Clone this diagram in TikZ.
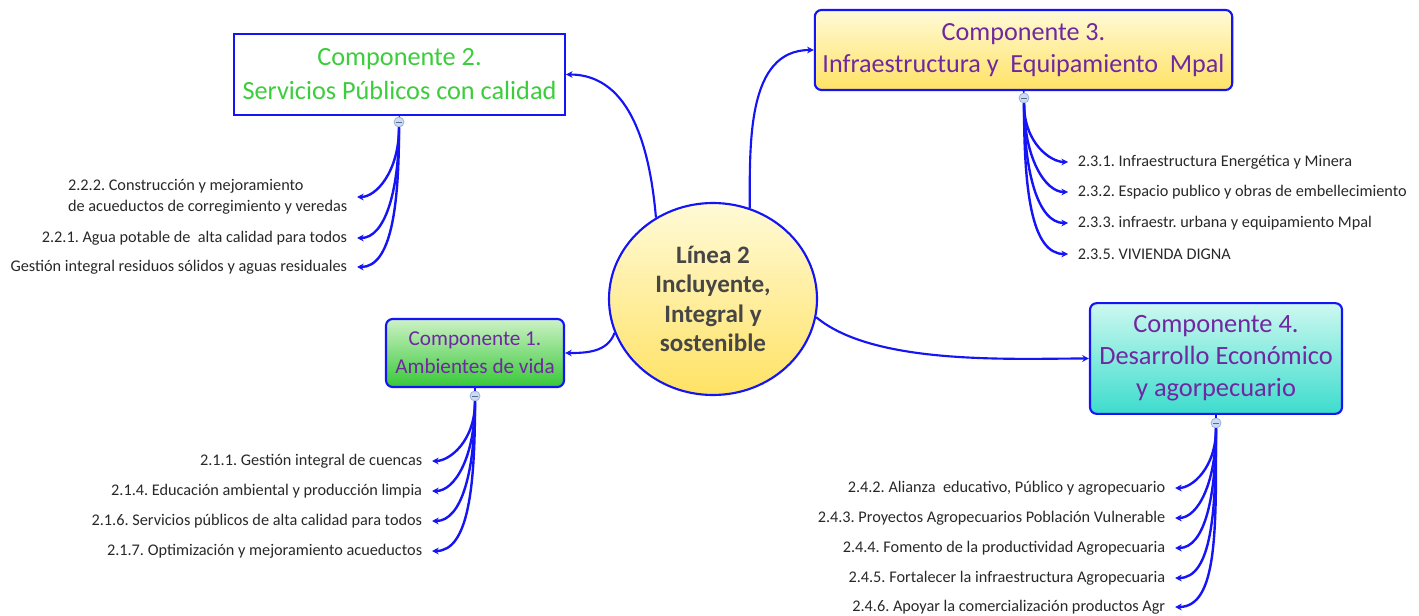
\documentclass[tikz,border=0pt]{standalone}
\usepackage{fontspec}
\setmainfont{Carlito}
\usetikzlibrary{arrows.meta,shapes.geometric}
\frenchspacing

\definecolor{mapblue}{RGB}{20,20,245}
\definecolor{titlegreen}{RGB}{60,205,60}
\definecolor{titlepurple}{RGB}{112,40,160}
\definecolor{leafgray}{RGB}{40,40,40}
\definecolor{coregray}{RGB}{70,70,70}
\definecolor{yellowtop}{RGB}{255,250,215}
\definecolor{yellowbot}{RGB}{255,226,100}
\definecolor{greentop}{RGB}{205,242,198}
\definecolor{greenbot}{RGB}{55,200,55}
\definecolor{cyantop}{RGB}{205,248,240}
\definecolor{cyanbot}{RGB}{60,220,205}
\definecolor{foldfill}{RGB}{205,218,242}
\definecolor{folddraw}{RGB}{150,178,225}

\tikzset{every picture/.style={line width=0.75pt}}
\tikzset{
  compbox/.style={draw=mapblue, line width=1.6pt, align=center, text=titlepurple, inner sep=0pt},
  fold/.style={circle, draw=folddraw, fill=foldfill, minimum size=7.5pt, inner sep=0pt, line width=0.6pt},
  foldbar/.style={draw=folddraw!60!black, line width=0.6pt},
  leaf/.style={font=\fontsize{12.2}{15.5}\selectfont, text=leafgray, inner xsep=7pt, inner ysep=1pt},
  link/.style={draw=mapblue, line width=1.6pt, -{Stealth[length=5pt,width=5pt]}},
  leaflink/.style={draw=mapblue, line width=1.8pt, -{Stealth[length=5pt,width=5pt]}},
}

\begin{document}
\begin{tikzpicture}[x=0.75pt,y=0.75pt,yscale=-1,xscale=1]
\path[use as bounding box] (0,0) rectangle (1419,616);

%Shape: Ellipse, central line
\node[ellipse, draw=mapblue, line width=1.6pt, top color=yellowtop, bottom color=yellowbot, minimum width=156pt, minimum height=144pt, inner sep=0pt, align=center, text=coregray, font=\bfseries\fontsize{18.8}{22}\selectfont] (lin) at (713,299) {Línea 2\\Incluyente,\\Integral y\\sostenible};

%Shape: Rectangle, component 2
\node[compbox, sharp corners, fill=white, text=titlegreen, minimum width=248pt, minimum height=61pt, font=\fontsize{19.7}{25.5}\selectfont] (c2) at (399.5,74.5) {Componente 2.\\Servicios Públicos con calidad};
%Shape: Rectangle, component 3
\node[compbox, rounded corners=5pt, top color=yellowtop, bottom color=yellowbot, minimum width=313pt, minimum height=60pt, font=\fontsize{19.6}{24}\selectfont] (c3) at (1023.5,50) {Componente 3.\\Infraestructura y~ Equipamiento~ Mpal};
%Shape: Rectangle, component 1
\node[compbox, rounded corners=5pt, top color=greentop, bottom color=greenbot, minimum width=133.5pt, minimum height=51pt, font=\fontsize{15.9}{21}\selectfont] (c1) at (475,353) {Componente 1.\\Ambientes de vida};
%Shape: Rectangle, component 4
\node[compbox, rounded corners=5pt, top color=cyantop, bottom color=cyanbot, minimum width=189pt, minimum height=83pt, font=\fontsize{19.8}{24}\selectfont] (c4) at (1216,358.5) {Componente 4.\\Desarrollo Económico\\y agorpecuario};

%Shape: Circle, fold buttons
\node[fold] (c2f) at (399,122) {};
\node[fold] (c3f) at (1024,98) {};
\node[fold] (c1f) at (475,396) {};
\node[fold] (c4f) at (1216,423) {};
\foreach \comp in {c1,c2,c3,c4} {
  \draw[draw=mapblue, line width=1.2pt] (\comp.south) -- (\comp f.north);
  \draw[foldbar] ([xshift=-2pt]\comp f.center) -- ([xshift=2pt]\comp f.center);
}

%Curve Lines: centre to components (angles flipped by yscale=-1)
\draw[link] (lin.125) to[out=-95,in=0] (c2.east);
\draw[link] (lin.68) to[out=-90,in=180] (c3.west);
\draw[link] (lin.199) to[out=110,in=0] (c1.east);
\draw[link] (lin.350) to[out=40,in=180,looseness=0.7] (c4.west);

% Text Node: leaves of component 2
\node[leaf, anchor=east, align=left] (l222) at (357,197) {2.2.2. Construcción y mejoramiento\\de acueductos de corregimiento y veredas};
\node[leaf, anchor=east] (l221) at (357,238) {2.2.1. Agua potable de~ alta calidad para todos};
\node[leaf, anchor=east] (l22g) at (357,267) {Gestión integral residuos sólidos y aguas residuales};

% Text Node: leaves of component 3
\node[leaf, anchor=west] (l231) at (1068,162) {2.3.1. Infraestructura Energética y Minera};
\node[leaf, anchor=west] (l232) at (1068,192) {2.3.2. Espacio publico y obras de embellecimiento};
\node[leaf, anchor=west] (l233) at (1068,223) {2.3.3. infraestr. urbana y equipamiento Mpal};
\node[leaf, anchor=west] (l235) at (1068,254) {2.3.5. VIVIENDA DIGNA};

% Text Node: leaves of component 1
\node[leaf, anchor=east] (l211) at (432,461) {2.1.1. Gestión integral de cuencas};
\node[leaf, anchor=east] (l214) at (432,491) {2.1.4. Educación ambiental y producción limpia};
\node[leaf, anchor=east] (l216) at (432,521) {2.1.6. Servicios públicos de alta calidad para todos};
\node[leaf, anchor=east] (l217) at (432,551) {2.1.7. Optimización y mejoramiento acueductos};

% Text Node: leaves of component 4
\node[leaf, anchor=east] (l242) at (1175,488) {2.4.2. Alianza~ educativo, Público y agropecuario};
\node[leaf, anchor=east] (l243) at (1175,518) {2.4.3. Proyectos Agropecuarios Población Vulnerable};
\node[leaf, anchor=east] (l244) at (1175,548) {2.4.4. Fomento de la productividad Agropecuaria};
\node[leaf, anchor=east] (l245) at (1175,578) {2.4.5. Fortalecer la infraestructura Agropecuaria};
\node[leaf, anchor=east] (l246) at (1175,607) {2.4.6. Apoyar la comercialización productos Agr};

%Curve Lines: fold buttons to leaves
\foreach \l in {l222,l221,l22g}
  \draw[leaflink] (c2f.south) to[out=90,in=0,out looseness=1.4,in looseness=0.6] (\l.east);
\foreach \l in {l231,l232,l233,l235}
  \draw[leaflink] (c3f.south) to[out=90,in=180,out looseness=1.4,in looseness=0.6] (\l.west);
\foreach \l in {l211,l214,l216,l217}
  \draw[leaflink] (c1f.south) to[out=90,in=0,out looseness=1.4,in looseness=0.6] (\l.east);
\foreach \l in {l242,l243,l244,l245,l246}
  \draw[leaflink] (c4f.south) to[out=90,in=0,out looseness=1.4,in looseness=0.6] (\l.east);

\end{tikzpicture}
\end{document}
